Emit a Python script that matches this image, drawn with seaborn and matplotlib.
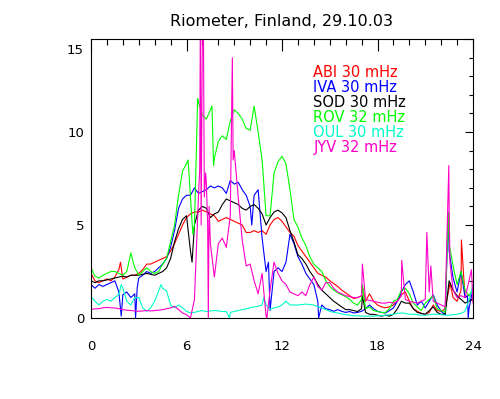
import numpy as np
import pandas as pd
import matplotlib
matplotlib.use("Agg")
import matplotlib.pyplot as plt
import matplotlib.transforms as mtrans
from matplotlib.ticker import MultipleLocator
import seaborn as sns

# station labels and colours (legend order = drawing order)
stations = ["ABI 30 mHz", "IVA 30 mHz", "SOD 30 mHz", "ROV 32 mHz", "OUL 30 mHz", "JYV 32 mHz"]
colors = ["#ff0000", "#0000ff", "#000000", "#00ff00", "#00ffc8", "#ff00c8"]

# UT hours, one reading every 15 minutes
hours = np.arange(97) * 0.25

abi = [2.4, 2.0, 1.9, 2.0, 2.1, 2.0, 2.2, 2.6, 2.1, 2.2, 2.3, 2.3,
       2.4, 2.6, 2.9, 2.9, 3.0, 3.1, 3.2, 3.3, 3.6, 4.0, 4.5, 5.0,
       5.4, 5.6, 5.7, 5.7, 5.8, 5.7, 5.6, 5.5, 5.2, 5.3, 5.4, 5.3,
       5.2, 5.1, 5.0, 4.6, 4.6, 4.7, 4.6, 4.7, 4.5, 5.0, 5.3, 5.4,
       5.2, 4.9, 4.6, 4.4, 3.9, 3.6, 3.3, 3.0, 2.7, 2.4, 2.3, 2.2,
       2.0, 1.85, 1.7, 1.5, 1.35, 1.2, 1.05, 1.1, 1.2, 0.9, 1.3, 0.9,
       0.7, 0.6, 0.55, 0.6, 0.7, 0.9, 1.25, 1.4, 0.9, 0.5, 0.36, 0.25,
       0.18, 0.3, 0.7, 0.4, 0.36, 0.5, 1.6, 1.1, 0.9, 1.5, 1.1, 1.25,
       1.1]
iva = [1.8, 1.6, 1.8, 1.7, 1.8, 1.9, 2.0, 1.4, 1.25, 1.4, 1.1, 1.3,
       2.15, 2.3, 2.5, 2.4, 2.5, 2.7, 2.9, 3.2, 3.8, 4.7, 5.9, 6.4,
       6.6, 6.6, 7.0, 6.7, 6.8, 6.9, 7.1, 7.0, 7.1, 7.0, 6.7, 7.4,
       7.2, 7.3, 6.9, 6.6, 6.0, 6.6, 6.9, 4.3, 2.5, 0.4, 2.5, 2.7,
       2.5, 3.0, 4.5, 4.0, 3.3, 2.9, 2.4, 2.1, 1.8, 0.9, 0.7, 0.5,
       0.45, 0.36, 0.45, 0.36, 0.3, 0.35, 0.27, 0.3, 0.36, 0.5, 0.7, 0.5,
       0.36, 0.3, 0.27, 0.4, 0.54, 0.9, 1.4, 1.8, 2.0, 1.4, 0.7, 0.9,
       0.54, 0.9, 1.25, 0.7, 0.36, 0.18, 3.6, 2.15, 1.4, 2.5, 1.1, 0.5,
       1.6]
sod = [2.0, 1.9, 2.0, 2.0, 2.05, 2.1, 2.15, 2.2, 2.25, 2.2, 2.3, 2.3,
       2.3, 2.35, 2.4, 2.35, 2.3, 2.4, 2.5, 2.7, 3.2, 4.1, 4.8, 5.3,
       5.5, 3.6, 5.0, 5.8, 6.0, 5.9, 5.4, 5.6, 5.7, 6.1, 6.4, 6.3,
       6.2, 6.1, 5.9, 5.8, 6.0, 6.1, 5.9, 5.6, 5.0, 5.4, 5.7, 5.8,
       5.65, 5.4, 4.7, 4.1, 3.4, 3.2, 2.9, 2.5, 2.2, 1.8, 1.5, 1.3,
       1.1, 0.9, 0.75, 0.6, 0.45, 0.45, 0.4, 0.35, 0.5, 0.3, 0.2, 0.2,
       0.15, 0.1, 0.15, 0.1, 0.2, 0.5, 0.9, 0.8, 0.8, 0.5, 0.3, 0.25,
       0.2, 0.4, 0.6, 0.3, 0.2, 0.2, 2.0, 1.5, 1.2, 1.0, 0.8, 0.9,
       1.0]
rov = [2.7, 2.25, 2.15, 2.3, 2.4, 2.5, 2.5, 2.4, 2.3, 2.5, 3.5, 2.7,
       2.3, 2.5, 2.7, 2.5, 2.4, 2.5, 2.9, 3.2, 4.1, 5.0, 6.6, 7.9,
       8.3, 6.5, 5.0, 11.6, 10.9, 10.7, 11.2, 8.6, 9.5, 9.8, 9.6, 10.6,
       11.2, 11.0, 10.7, 10.2, 10.1, 11.4, 10.0, 8.5, 5.5, 5.5, 7.8, 8.4,
       8.7, 8.3, 6.9, 5.3, 4.9, 4.3, 3.9, 3.3, 2.9, 2.7, 2.5, 2.0,
       1.7, 1.5, 1.35, 1.25, 1.15, 1.0, 0.8, 0.7, 1.0, 0.5, 0.6, 0.4,
       0.35, 0.3, 0.3, 0.5, 0.9, 1.0, 1.5, 1.6, 1.3, 0.8, 0.6, 0.4,
       0.8, 1.0, 1.2, 0.5, 0.4, 0.3, 4.0, 2.8, 1.8, 2.5, 1.5, 1.2,
       1.5]
oul = [1.15, 0.9, 0.7, 0.9, 1.0, 0.9, 1.1, 1.25, 1.6, 0.9, 0.7, 1.1,
       1.1, 0.55, 0.36, 0.55, 0.9, 1.45, 1.6, 1.45, 0.7, 0.55, 0.7, 0.55,
       0.36, 0.27, 0.3, 0.36, 0.4, 0.35, 0.38, 0.4, 0.38, 0.35, 0.35, 0.3,
       0.35, 0.4, 0.45, 0.5, 0.55, 0.6, 0.63, 0.7, 0.7, 0.45, 0.55, 0.6,
       0.7, 0.9, 0.7, 0.7, 0.7, 0.72, 0.75, 0.72, 0.7, 0.6, 0.55, 0.45,
       0.36, 0.3, 0.27, 0.22, 0.18, 0.15, 0.12, 0.12, 0.1, 0.1, 0.1, 0.1,
       0.12, 0.12, 0.15, 0.18, 0.2, 0.25, 0.27, 0.25, 0.2, 0.2, 0.18, 0.15,
       0.15, 0.18, 0.2, 0.2, 0.18, 0.15, 0.15, 0.18, 0.2, 0.25, 0.36, 1.0,
       1.8]
jyv = [0.45, 0.5, 0.5, 0.55, 0.57, 0.55, 0.54, 0.5, 0.45, 0.42, 0.4, 0.38,
       0.36, 0.38, 0.4, 0.38, 0.4, 0.42, 0.45, 0.5, 0.54, 0.63, 0.45, 0.27,
       0.18, 0.0, 1.0, 6.5, 16.0, 7.2, 4.0, 2.2, 4.0, 4.3, 3.8, 5.5,
       9.0, 6.5, 4.2, 2.8, 2.9, 2.0, 1.3, 2.4, 0.1, 1.5, 3.0, 2.4,
       2.0, 1.8, 1.4, 1.3, 1.2, 1.4, 1.2, 1.8, 2.2, 1.7, 1.5, 1.9,
       1.9, 1.6, 1.4, 1.3, 1.2, 1.15, 1.1, 1.1, 1.2, 1.0, 0.95, 0.9,
       0.85, 0.8, 0.8, 0.85, 0.8, 0.9, 1.2, 1.0, 0.9, 0.85, 0.8, 0.9,
       1.0, 1.4, 0.9, 0.8, 0.7, 0.6, 6.0, 1.5, 1.1, 1.2, 1.1, 2.0,
       0.8]

# short spikes / drops between the 15-minute readings
abi_spike_h = [1.85, 17.05, 22.55, 23.27]
abi_spike_v = [3.0, 1.7, 1.9, 4.2]
iva_spike_h = [1.9, 2.8, 2.9, 10.1, 11.15, 14.3, 22.45, 23.65, 23.7]
iva_spike_v = [0.1, 0.0, 1.6, 5.0, 3.0, 0.0, 5.6, 1.2, 0.0]
sod_spike_h = [6.35, 17.05]
sod_spike_v = [3.0, 1.2]
rov_spike_h = [6.1, 6.4, 6.62, 6.7, 7.6, 7.7, 17.05, 22.45]
rov_spike_v = [8.5, 4.5, 9.0, 11.8, 11.4, 8.2, 1.8, 5.7]
oul_spike_h = [1.9, 4.4, 8.7, 10.85]
oul_spike_v = [1.8, 1.8, 0.0, 1.1]
jyv_spike_h = [6.83, 6.87, 6.92, 7.06, 7.12, 7.2, 7.33, 7.37, 7.42, 8.88, 8.93,
               11.05, 17.05, 19.52, 21.1, 21.35, 22.48, 22.55, 23.9]
jyv_spike_v = [8.0, 16.0, 5.0, 16.0, 6.5, 7.8, 5.0, 0.0, 6.0, 14.0, 8.5,
               0.0, 2.9, 3.1, 4.6, 2.8, 8.2, 3.0, 2.6]

series = [
    (abi, abi_spike_h, abi_spike_v),
    (iva, iva_spike_h, iva_spike_v),
    (sod, sod_spike_h, sod_spike_v),
    (rov, rov_spike_h, rov_spike_v),
    (oul, oul_spike_h, oul_spike_v),
    (jyv, jyv_spike_h, jyv_spike_v),
]

frames = []
for name, (base, sh, sv) in zip(stations, series):
    frames.append(pd.DataFrame({
        "hour": np.concatenate([hours, sh]),
        "value": np.concatenate([base, sv]),
        "station": name,
    }))
df = pd.concat(frames, ignore_index=True)

sns.set_style("white")
plt.rcParams["font.family"] = ["DejaVu Sans"]
plt.rcParams["text.color"] = "black"

fig = plt.figure(figsize=(5, 3.99), dpi=100)
ax = fig.add_axes([0.182, 0.203, 0.764, 0.699])

sns.lineplot(data=df, x="hour", y="value", hue="station", hue_order=stations,
             palette=colors, estimator=None, sort=True, legend=False,
             linewidth=0.8, ax=ax)

ax.set_xlim(0, 24)
ax.set_ylim(0, 15)
ax.set_xticks([0, 6, 12, 18, 24])
ax.set_yticks([0, 5, 10, 15])
ax.xaxis.set_minor_locator(MultipleLocator(1))
ax.yaxis.set_minor_locator(MultipleLocator(1))
ax.set_xlabel("")
ax.set_ylabel("")

for sp in ax.spines.values():
    sp.set_visible(True)
    sp.set_color("black")
    sp.set_linewidth(0.8)

ax.tick_params(which="both", direction="in", top=True, right=True,
               color="black", width=0.8, labelsize=9.5, labelcolor="black")
ax.tick_params(axis="x", which="major", length=8.5, pad=15.5)
ax.tick_params(axis="x", which="minor", length=4.5)
ax.tick_params(axis="y", which="major", length=6, pad=5)
ax.tick_params(axis="y", which="minor", length=3)

# top y label sits a little below its tick
top_lab = ax.yaxis.get_major_ticks()[-1].label1
top_lab.set_transform(mtrans.offset_copy(top_lab.get_transform(), fig=fig, y=-10, units="dots"))

ax.set_title("Riometer, Finland, 29.10.03", fontsize=11.5, pad=9.5, color="black")

for i, (name, col) in enumerate(zip(stations, colors)):
    ax.text(0.582, 0.865 - i * 0.0538, name, color=col, fontsize=10.5,
            transform=ax.transAxes, va="baseline", ha="left")

fig.savefig("out.png", dpi=100)
